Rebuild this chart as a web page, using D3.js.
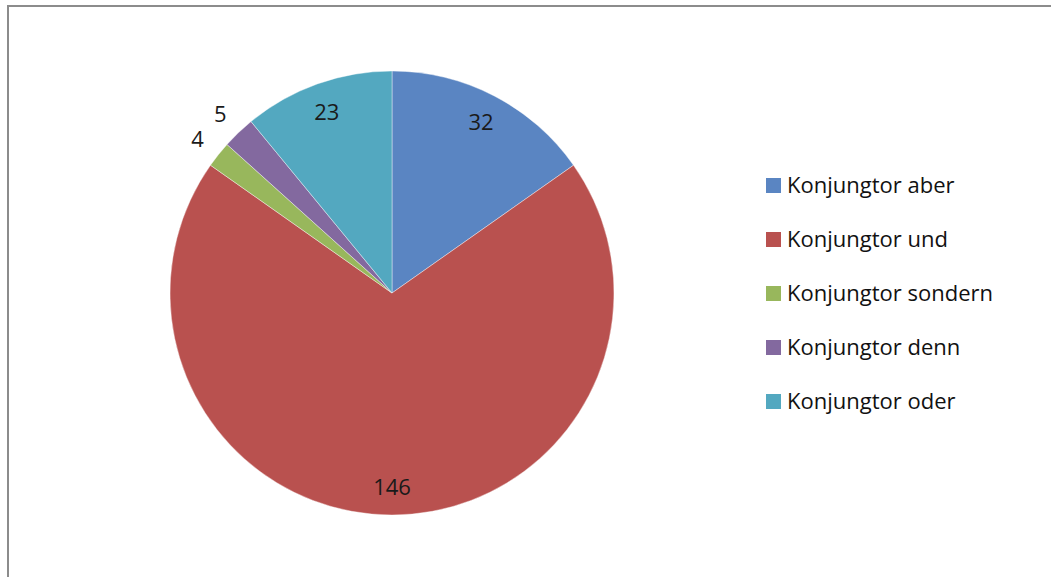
<!DOCTYPE html>
<html lang="de">
<head>
<meta charset="UTF-8">
<title>Konjunktoren</title>
<style>
  body{margin:0;background:#fff;font-family:'Open Sans',sans-serif}
  svg{display:block}
  .lbl{font-size:22px;fill:#1a1a1a}
  .legend text{font-size:22px;fill:#111}
</style>
</head>
<body>
<div id="chart"></div>
<script src="https://d3js.org/d3.v7.min.js"></script>
<script>
/* daten */
const categories=["Konjungtor aber","Konjungtor und","Konjungtor sondern","Konjungtor denn","Konjungtor oder"];
const values=[32,146,4,5,23];
const colors=["#5A85C2","#B9514F","#98B75C","#83699F","#53A8C0"];

/* 1. masse */
const W=1051,H=577,cx=392,cy=293,R=222;

const svg=d3.select("#chart").append("svg").attr("width",W).attr("height",H);

/* rahmen */
svg.append("rect").attr("x",8).attr("y",6).attr("width",W).attr("height",H)
   .attr("fill","#fff").attr("stroke","#8c8c8c").attr("stroke-width",2);

/* 2. torte */
const data=categories.map((c,i)=>({cat:c,value:values[i],color:colors[i]}));
const pie=d3.pie().value(d=>d.value).sort(null);
const arc=d3.arc().innerRadius(0).outerRadius(R);
const arcs=pie(data);

const g=svg.append("g").attr("transform",`translate(${cx},${cy})`);
g.selectAll("path").data(arcs).enter().append("path")
 .attr("d",arc).attr("fill",d=>d.data.color)
 .attr("stroke","#fff").attr("stroke-opacity",.5).attr("stroke-width",.8);

/* beschriftung: kleine stücke aussen */
const inner=d3.arc().innerRadius(R*0.87).outerRadius(R*0.87),
      outer=d3.arc().innerRadius(R*1.12).outerRadius(R*1.12);
g.selectAll("text").data(arcs).enter().append("text").attr("class","lbl")
 .attr("transform",d=>`translate(${(d.endAngle-d.startAngle<0.2?outer:inner).centroid(d)})`)
 .attr("text-anchor","middle").attr("dy","0.4em")
 .text(d=>d.data.value);

/* 3. legende */
const legend=svg.append("g").attr("class","legend").attr("transform","translate(766,185)");
const li=legend.selectAll("g").data(data).enter().append("g")
 .attr("transform",(d,i)=>`translate(0,${i*54})`);
li.append("rect").attr("y",-7).attr("width",15).attr("height",15).attr("fill",d=>d.color);
li.append("text").attr("x",21).attr("dy","0.35em").text(d=>d.cat);
</script>
</body>
</html>
